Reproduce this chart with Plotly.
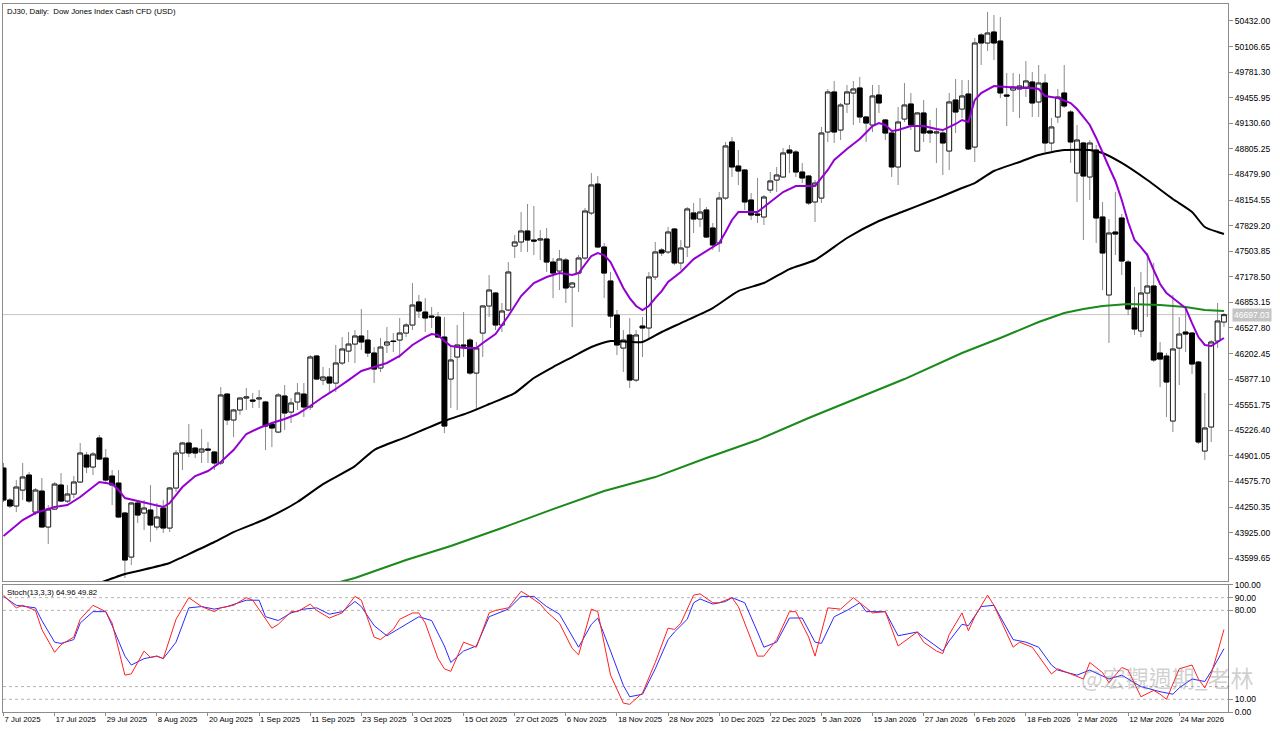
import pandas as pd
import plotly.graph_objects as go
from plotly.subplots import make_subplots

# ---------------- data ----------------
dates = [d for d in pd.bdate_range("2025-07-07", "2026-04-02")
         if d.strftime("%Y-%m-%d") not in ("2025-12-25", "2026-01-01")]
idx = list(range(len(dates)))

open_ = [44746, 44339, 44263, 44466, 44657, 44186, 44453, 43996, 44224, 44530,
         44326, 44415, 44568, 44911, 44759, 45128, 44873, 44644, 44555, 44174,
         43614, 44301, 44174, 44212, 43996, 44237, 43983, 44492, 44937, 45064,
         45000, 44950, 44988, 44950, 44810, 45687, 45357, 45484, 45636, 45611,
         45624, 45586, 45306, 45204, 45662, 45458, 45586, 45687, 45522, 46171,
         45865, 45904, 45827, 46082, 46234, 46323, 46425, 46374, 46209, 46018,
         46311, 46361, 46374, 46463, 46565, 46858, 46730, 46679, 46667, 46412,
         45878, 46158, 46311, 46374, 45954, 46463, 46807, 46972, 46565, 46756,
         47570, 47621, 47761, 47646, 47646, 47659, 47366, 47252, 47392, 47048,
         47226, 47417, 47990, 48358, 47557, 47125, 46692, 46272, 46438, 45865,
         46552, 46527, 47176, 47519, 47494, 47786, 47354, 47557, 47990, 47913,
         48028, 47799, 47608, 48180, 48893, 48587, 48537, 48155, 47977, 47939,
         48282, 48409, 48448, 48791, 48766, 48511, 48460, 48130, 48180, 49020,
         49529, 49045, 49376, 49516, 49580, 49211, 49109, 49491, 49173, 49007,
         48575, 49185, 49376, 48778, 49262, 49033, 49007, 49007, 48778, 49427,
         49312, 49503, 48829, 50254, 50152, 50292, 50177, 49491, 49554, 49567,
         49592, 49656, 49402, 49643, 48880, 49211, 49516, 49274, 48498, 48880,
         48448, 48791, 47939, 46947, 47748, 47926, 47366, 46781, 46489, 46972,
         47061, 46209, 46171, 45344, 46272, 46476, 46463, 46094, 44962, 45268,
         46361, 46603]
high = [44810, 44364, 44593, 44810, 44695, 44492, 44619, 44275, 44568, 44682,
        44530, 44644, 45064, 44950, 44950, 45166, 44988, 44721, 44721, 44186,
        44314, 44326, 44339, 44530, 44301, 44339, 44504, 44975, 45077, 45306,
        45013, 45242, 45077, 44962, 45776, 45700, 45497, 45649, 45764, 45700,
        45738, 45600, 45331, 45700, 45802, 45636, 45827, 45827, 46183, 46183,
        46031, 46018, 46311, 46412, 46476, 46501, 46769, 46501, 46285, 46400,
        46540, 46463, 46654, 46590, 47099, 46947, 46908, 46794, 46730, 46667,
        46285, 46565, 46730, 46400, 46349, 46819, 47201, 46985, 46845, 47366,
        47710, 48002, 48104, 48079, 47773, 47799, 47417, 47519, 47417, 47112,
        47455, 48053, 48498, 48460, 47608, 47239, 46756, 46501, 46654, 46501,
        46667, 47239, 47621, 47544, 47812, 47799, 47646, 48066, 48117, 48180,
        48066, 47862, 48257, 48893, 48956, 48791, 48549, 48244, 48435, 48219,
        48511, 48575, 48816, 48855, 48791, 48626, 48473, 48409, 49084, 49567,
        49669, 49389, 49618, 49669, 49720, 49220, 49618, 49618, 49186, 49020,
        49338, 49643, 49516, 49274, 49427, 49173, 49325, 49045, 49516, 49694,
        49681, 49681, 50216, 50279, 50546, 50508, 50483, 49770, 49770, 49758,
        49923, 49783, 49872, 49758, 49198, 49567, 49872, 49300, 49109, 48893,
        48918, 48855, 48130, 47913, 48257, 47977, 47392, 47048, 47239, 47481,
        47354, 46349, 46209, 46947, 46667, 46794, 46476, 46107, 45700, 46374,
        46845, 46718]
low = [44314, 44237, 44186, 44339, 44301, 44148, 43983, 43779, 44212, 44314,
       44301, 44364, 44555, 44682, 44657, 44848, 44555, 44275, 44110, 43347,
       43512, 44046, 43957, 43805, 43957, 43919, 43932, 44441, 44721, 44886,
       44873, 44810, 44810, 44721, 44784, 45293, 45140, 45420, 45484, 45509,
       45509, 44975, 45013, 45190, 45229, 45318, 45484, 45395, 45484, 45865,
       45802, 45700, 45713, 46056, 46094, 46082, 46247, 46158, 45827, 45967,
       46209, 46222, 46145, 46412, 46501, 46654, 46476, 46527, 46400, 45191,
       45509, 45484, 46158, 45929, 45484, 46158, 46667, 46501, 46476, 46740,
       47417, 47494, 47494, 47455, 47392, 47239, 46908, 47010, 46845, 46540,
       46985, 47392, 47964, 47544, 46908, 46527, 46183, 45967, 45764, 45840,
       46158, 46400, 47137, 47443, 47468, 47328, 47265, 47430, 47735, 47812,
       47672, 47519, 47494, 48155, 48448, 48346, 48028, 47901, 47862, 47837,
       48244, 48257, 48435, 48498, 48448, 48371, 48091, 47875, 48117, 48893,
       48880, 48918, 49262, 49109, 49134, 48893, 49020, 49262, 48918, 48448,
       48346, 49147, 49045, 48766, 48893, 48880, 48626, 48473, 48537, 49007,
       49198, 48791, 48638, 49872, 50050, 49936, 49452, 49096, 49274, 49198,
       49465, 49211, 49211, 48766, 48766, 49134, 49325, 48626, 48130, 47646,
       48155, 47608, 47010, 46336, 47455, 47201, 46692, 46438, 46412, 46667,
       46094, 45776, 45395, 45204, 45802, 46222, 45942, 45051, 44848, 45077,
       46272, 46540]
close = [44339, 44263, 44504, 44632, 44326, 44466, 43996, 44224, 44542, 44326,
         44415, 44568, 44937, 44759, 44924, 44860, 44593, 44530, 44123, 43576,
         44301, 44148, 44237, 44021, 44123, 43983, 44492, 44937, 45064, 44937,
         44937, 44988, 44975, 44810, 45675, 45357, 45484, 45636, 45649, 45598,
         45636, 45280, 45255, 45675, 45446, 45573, 45700, 45522, 46158, 45878,
         45904, 45827, 46082, 46260, 46323, 46425, 46349, 46209, 46005, 46285,
         46349, 46355, 46463, 46565, 46819, 46743, 46654, 46667, 46412, 45280,
         46120, 46311, 46298, 45954, 46272, 46807, 47010, 46565, 46743, 47239,
         47621, 47761, 47646, 47633, 47659, 47366, 47226, 47404, 47036, 47099,
         47417, 48015, 48346, 47557, 47226, 46679, 46311, 46374, 45865, 46438,
         46527, 47176, 47494, 47481, 47748, 47354, 47544, 48041, 47913, 48002,
         47684, 47583, 48180, 48842, 48575, 48524, 48130, 47964, 47964, 48193,
         48397, 48473, 48753, 48753, 48511, 48435, 48117, 48371, 49007, 49529,
         49020, 49363, 49529, 49567, 49211, 49134, 49478, 49389, 49007, 48575,
         49147, 49363, 49109, 49262, 49007, 49007, 49020, 48880, 49402, 49274,
         49478, 48804, 50152, 50152, 50279, 50152, 49516, 49478, 49592, 49605,
         49669, 49389, 49643, 48880, 49084, 49465, 49351, 48893, 48918, 48460,
         48880, 47926, 47481, 47735, 47722, 47379, 46769, 46514, 46972, 47061,
         46120, 46132, 45840, 46260, 46450, 46450, 46069, 45077, 45255, 46349,
         46616, 46697.03]

# moving averages (bar index, value)
ma_fast_idx = [0, 3, 5, 8, 10, 12, 15, 17, 18, 19, 21, 24, 25, 26, 28, 30, 32, 34, 36, 38,
               40, 42, 44, 46, 48, 50, 52, 54, 56, 58, 60, 62, 64, 66, 67, 68, 69, 70, 72, 74,
               75, 77, 79, 81, 83, 85, 87, 89, 90, 92, 93, 94, 95, 96, 97, 98, 99, 100, 101, 102,
               103, 104, 106, 108, 110, 112, 113, 114, 115, 117, 118, 120, 122, 124, 126, 127, 128, 129, 130, 132,
               134, 136, 137, 138, 139, 140, 142, 144, 146, 147, 149, 150, 151, 152, 153, 155, 157, 159, 161, 162,
               163, 165, 167, 168, 169, 170, 171, 172, 173, 174, 175, 176, 177, 178, 179, 180, 181, 182, 183, 184,
               185, 186, 187, 188, 189, 190, 191]
ma_fast_val = [43881, 44085, 44174, 44250, 44275, 44377, 44568, 44543, 44466, 44364, 44326, 44275, 44250, 44301, 44504, 44644, 44708, 44822, 44975, 45179,
               45255, 45318, 45369, 45433, 45535, 45649, 45751, 45865, 45980, 46031, 46082, 46171, 46311, 46412, 46450, 46438, 46361, 46298, 46272, 46272,
               46336, 46450, 46679, 46934, 47099, 47176, 47226, 47201, 47226, 47443, 47481, 47455, 47366, 47201, 47036, 46908, 46807, 46756, 46807, 46908,
               46997, 47112, 47239, 47404, 47506, 47608, 47748, 47901, 48002, 48002, 48002, 48130, 48257, 48333, 48333, 48333, 48435, 48537, 48664, 48804,
               48931, 49096, 49134, 49109, 49033, 49045, 49096, 49096, 49058, 49045, 49122, 49173, 49147, 49427, 49516, 49605, 49592, 49580, 49580, 49567,
               49478, 49452, 49389, 49312, 49211, 49109, 48944, 48753, 48575, 48397, 48155, 47875, 47646, 47557, 47455, 47265, 47087, 46972, 46908, 46845,
               46781, 46590, 46412, 46311, 46298, 46349, 46400]

ma_mid_idx = [12, 15, 19, 21, 26, 28, 33, 36, 41, 46, 50, 55, 58, 63, 69, 73, 76, 80, 83, 86,
              89, 92, 95, 98, 100, 103, 106, 111, 115, 119, 123, 127, 132, 137, 141, 145, 147, 150, 152, 155,
              159, 162, 166, 170, 172, 175, 179, 183, 186, 188, 190, 191]
ma_mid_val = [43194, 43283, 43398, 43436, 43538, 43614, 43805, 43932, 44098, 44314, 44542, 44771, 44975, 45140, 45344, 45458, 45560, 45700, 45891, 46031,
              46158, 46285, 46361, 46349, 46349, 46476, 46590, 46781, 46997, 47099, 47277, 47392, 47672, 47888, 48015, 48142, 48206, 48308, 48371, 48524,
              48638, 48728, 48791, 48791, 48753, 48626, 48409, 48168, 48002, 47812, 47748, 47722]

ma_slow_idx = [52, 55, 63, 70, 78, 86, 94, 99, 102, 110, 118, 126, 133, 141, 150, 156, 162, 166, 169, 172,
               176, 181, 185, 188, 191]
ma_slow_val = [43283, 43347, 43576, 43754, 43983, 44224, 44453, 44568, 44631, 44873, 45102, 45382, 45611, 45878, 46209, 46400, 46603, 46718, 46769, 46807,
               46832, 46819, 46794, 46756, 46743]

# stochastic (13,3,3): main %K and signal %D
stoch_k_idx = [0, 2, 3, 5, 6, 8, 9, 11, 12, 14, 16, 17, 19, 20, 22, 23, 24, 25, 27, 29,
               31, 33, 34, 36, 38, 39, 42, 43, 45, 46, 48, 49, 51, 53, 55, 56, 58, 59, 61, 62,
               64, 65, 66, 68, 69, 70, 72, 74, 76, 77, 79, 81, 82, 84, 85, 87, 89, 90, 92, 93,
               95, 97, 98, 100, 102, 104, 105, 106, 108, 109, 111, 112, 114, 115, 117, 118, 119, 121, 123, 124,
               126, 127, 129, 131, 133, 135, 136, 138, 140, 143, 144, 146, 147, 148, 150, 151, 152, 154, 155, 158,
               159, 161, 163, 164, 165, 167, 169, 170, 172, 173, 175, 176, 178, 180, 181, 182, 184, 186, 187, 188,
               189, 190, 191]
stoch_k_val = [92, 82, 84, 80, 65, 47, 53, 59, 73, 84, 79, 70, 29, 30, 48, 43, 44, 42, 73, 90,
               83, 79, 82, 84, 90, 88, 66, 69, 79, 79, 85, 80, 74, 78, 91, 88, 59, 57, 65, 73,
               78, 78, 70, 42, 34, 32, 55, 51, 78, 80, 82, 95, 92, 85, 79, 70, 50, 45, 81, 79,
               29, 7, 6, 15, 39, 66, 65, 70, 92, 93, 86, 86, 90, 83, 57, 44, 44, 57, 79, 79,
               59, 44, 82, 81, 90, 82, 78, 79, 52, 63, 55, 48, 46, 61, 78, 64, 75, 92, 84, 51,
               55, 51, 37, 30, 34, 30, 26, 39, 31, 23, 35, 33, 12, 17, 14, 10, 34, 37, 26, 19,
               30, 47, 64.96]
stoch_d_idx = [0, 2, 5, 6, 8, 9, 11, 12, 14, 16, 17, 19, 20, 22, 24, 25, 27, 29, 31, 33,
               35, 38, 40, 41, 43, 45, 47, 49, 51, 53, 55, 56, 58, 60, 62, 65, 67, 69, 70, 72,
               74, 76, 79, 81, 83, 85, 87, 90, 92, 93, 95, 97, 98, 100, 102, 104, 105, 107, 108, 109,
               111, 113, 114, 116, 118, 119, 121, 123, 125, 127, 128, 130, 132, 134, 135, 138, 140, 143, 144, 147,
               148, 150, 151, 153, 155, 158, 160, 162, 164, 165, 168, 170, 173, 175, 178, 181, 183, 184, 186, 188,
               189, 191]
stoch_d_val = [91, 84, 82, 72, 55, 54, 57, 70, 79, 79, 68, 44, 37, 42, 44, 42, 55, 82, 83, 81,
               83, 88, 88, 75, 72, 78, 81, 82, 77, 79, 87, 83, 68, 60, 66, 75, 72, 52, 39, 48,
               52, 75, 81, 91, 91, 83, 77, 51, 69, 74, 48, 21, 12, 14, 34, 57, 63, 73, 86, 89,
               85, 87, 90, 86, 63, 51, 55, 74, 74, 55, 54, 75, 80, 86, 79, 79, 60, 63, 59, 48,
               56, 69, 68, 83, 84, 57, 55, 51, 37, 33, 29, 33, 26, 29, 20, 16, 14, 19, 26, 24,
               32, 49.82]

price_ticks = ["50432.00", "50106.65", "49781.30", "49455.95", "49130.60", "48805.25",
               "48479.90", "48154.55", "47829.20", "47503.85", "47178.50", "46853.15",
               "46527.80", "46202.45", "45877.10", "45551.75", "45226.40", "44901.05",
               "44575.70", "44250.35", "43925.00", "43599.65"]
stoch_ticks = ["100.00", "90.00", "80.00", "10.00", "0.00"]
stoch_levels = [90, 80, 20, 10]
last_price = 46697.03

# ---------------- figure ----------------
FONT = "Liberation Sans"
fig = make_subplots(rows=2, cols=1, shared_xaxes=True, vertical_spacing=0.0)

# wicks (grey) – full high/low
fig.add_trace(go.Candlestick(
    x=idx, open=open_, high=high, low=low, close=close,
    increasing=dict(line=dict(color="#8a8a8a", width=1), fillcolor="#8a8a8a"),
    decreasing=dict(line=dict(color="#8a8a8a", width=1), fillcolor="#8a8a8a"),
    whiskerwidth=0, showlegend=False, hoverinfo="skip"), row=1, col=1)

# bodies
body_hi = [max(o, c) for o, c in zip(open_, close)]
body_lo = [min(o, c) for o, c in zip(open_, close)]
fig.add_trace(go.Candlestick(
    x=idx, open=open_, high=body_hi, low=body_lo, close=close,
    increasing=dict(line=dict(color="#262626", width=1), fillcolor="#ffffff"),
    decreasing=dict(line=dict(color="#000000", width=1), fillcolor="#000000"),
    whiskerwidth=0, showlegend=False), row=1, col=1)

fig.add_trace(go.Scatter(x=ma_slow_idx, y=ma_slow_val, mode="lines",
                         line=dict(color="#1a8a1a", width=2), showlegend=False), row=1, col=1)
fig.add_trace(go.Scatter(x=ma_mid_idx, y=ma_mid_val, mode="lines", line_shape="spline",
                         line=dict(color="#000000", width=2, smoothing=0.6), showlegend=False), row=1, col=1)
fig.add_trace(go.Scatter(x=ma_fast_idx, y=ma_fast_val, mode="lines",
                         line=dict(color="#9400D3", width=2), showlegend=False), row=1, col=1)

fig.add_trace(go.Scatter(x=stoch_d_idx, y=stoch_d_val, mode="lines",
                         line=dict(color="#2a2aff", width=1), showlegend=False), row=2, col=1)
fig.add_trace(go.Scatter(x=stoch_k_idx, y=stoch_k_val, mode="lines",
                         line=dict(color="#ff2020", width=1), showlegend=False), row=2, col=1)

date_tick_idx = idx[::8]
date_tick_txt = [dates[i].strftime("%-d %b %Y") for i in date_tick_idx]

axis_common = dict(showline=True, mirror=True, linecolor="#8c8c8c", linewidth=1,
                   showgrid=False, zeroline=False, automargin=False)
fig.update_xaxes(range=[-0.08, 191.63], **axis_common)
fig.update_xaxes(showticklabels=False, ticks="", rangeslider_visible=False, row=1, col=1)
fig.update_xaxes(tickvals=date_tick_idx, ticktext=date_tick_txt, ticks="outside", ticklen=3,
                 tickcolor="#8c8c8c", ticklabelposition="outside right", tickangle=0,
                 tickfont=dict(family=FONT, size=7.8, color="#000000"),
                 rangeslider_visible=False, row=2, col=1)

fig.update_yaxes(side="right", domain=[0.185, 1.0], range=[43309, 50648],
                 tickvals=[float(t) for t in price_ticks], ticktext=price_ticks,
                 ticks="outside", ticklen=4, tickcolor="#8c8c8c",
                 tickfont=dict(family=FONT, size=8.5, color="#000000"),
                 **axis_common, row=1, col=1)
fig.update_yaxes(side="right", domain=[0.0, 0.1794], range=[0, 100],
                 tickvals=[float(t) for t in stoch_ticks], ticktext=stoch_ticks,
                 ticks="outside", ticklen=4, tickcolor="#8c8c8c",
                 tickfont=dict(family=FONT, size=8.5, color="#000000"),
                 **axis_common, row=2, col=1)

shapes = [dict(type="line", xref="x domain", x0=0, x1=1, yref="y", y0=last_price, y1=last_price,
               line=dict(color="#c4c4c4", width=1), layer="below")]
for lv in stoch_levels:
    shapes.append(dict(type="line", xref="x2 domain", x0=0, x1=1, yref="y2", y0=lv, y1=lv,
                       line=dict(color="#b4b4b4", width=1, dash="dot"), layer="below"))

annotations = [
    dict(text="DJ30, Daily:  Dow Jones Index Cash CFD (USD)", xref="paper", yref="paper",
         x=0, y=1, xanchor="left", yanchor="top", xshift=2, yshift=-1, showarrow=False,
         font=dict(family=FONT, size=7.8, color="#000000")),
    dict(text="Stoch(13,3,3) 64.96 49.82", xref="paper", yref="paper",
         x=0, y=0.1794, xanchor="left", yanchor="top", xshift=2, yshift=-1, showarrow=False,
         font=dict(family=FONT, size=7.8, color="#000000")),
    dict(text="%.2f" % last_price, xref="paper", yref="y", x=1, y=last_price,
         xanchor="left", yanchor="middle", xshift=4, showarrow=False, bgcolor="#c4c4c4",
         borderpad=1, font=dict(family=FONT, size=8.5, color="#ffffff")),
    dict(text="@宏觀週期_老林", xref="paper", yref="paper", x=0.951, y=0.05,
         xanchor="center", yanchor="middle", showarrow=False,
         font=dict(family="Noto Sans CJK TC", size=23, color="rgba(120,120,120,0.35)")),
]

fig.update_layout(
    width=1280, height=731,
    margin=dict(l=3, r=52, t=4, b=19),
    paper_bgcolor="#ffffff", plot_bgcolor="#ffffff",
    boxmode="overlay", boxgap=0.25, boxgroupgap=0,
    shapes=shapes, annotations=annotations, showlegend=False,
)

fig.write_html("out.html")
